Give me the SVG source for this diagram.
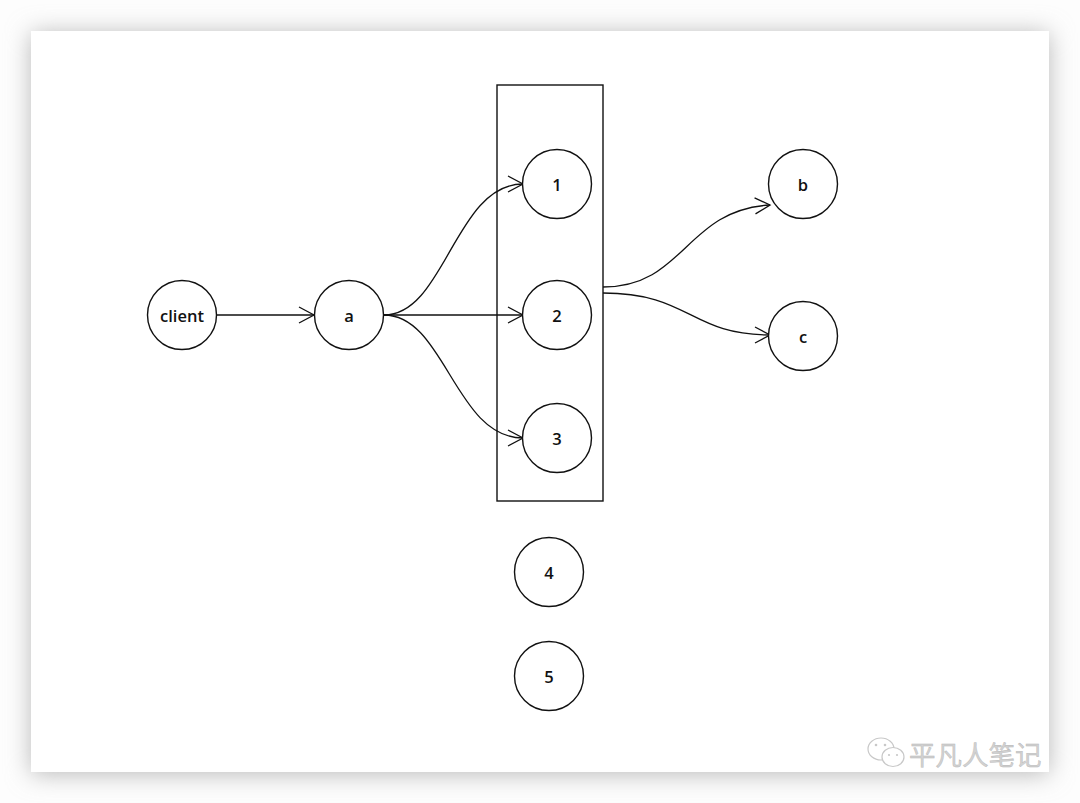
<svg xmlns="http://www.w3.org/2000/svg" width="1080" height="803" viewBox="0 0 1080 803">
<defs>
<filter id="sh" x="-10%" y="-10%" width="120%" height="120%"><feGaussianBlur stdDeviation="12"/></filter>
<marker id="arr" markerUnits="userSpaceOnUse" markerWidth="20" markerHeight="20" refX="0" refY="0" viewBox="-17 -10 20 20" orient="auto">
<path d="M-15,-8 L0,0 L-15,8" fill="none" stroke="#111" stroke-width="1.3"/>
</marker>
<style>
.n{fill:#fff;stroke:#111;stroke-width:1.4}
.t{font-family:"Open Sans","DejaVu Sans",sans-serif;font-size:16.5px;font-weight:600;fill:#111;text-anchor:middle;dominant-baseline:central}
.e{fill:none;stroke:#111;stroke-width:1.3;marker-end:url(#arr)}
.wm{font-family:"Noto Sans CJK SC",sans-serif;font-size:26.5px;fill:#d2d2d2;stroke:#b5b5b5;stroke-width:0.4}
</style>
</defs>
<rect width="1080" height="803" fill="#fdfdfd"/>
<rect x="31" y="33" width="1018" height="741" fill="#b8b8b8" filter="url(#sh)"/>
<rect x="31" y="31" width="1018" height="741" fill="#fff"/>
<g id="box"><rect x="497" y="85" width="106" height="416" fill="none" stroke="#111" stroke-width="1.4"/></g>
<g id="connectors">
<path class="e" d="M216,315 L314,315"/>
<path class="e" d="M384,315 C445,315 455,184 523,184"/>
<path class="e" d="M384,315 L523,315"/>
<path class="e" d="M384,315 C445,315 455,438 523,438"/>
<path class="e" d="M603,287 C685,287 685,210 770,205"/>
<path class="e" d="M603,293 C690,293 690,335 770,335"/>
</g>
<g id="client"><circle class="n" cx="182" cy="315" r="34.5"/><text class="t" x="182" y="315">client</text></g>
<g id="a"><circle class="n" cx="349" cy="315" r="34.5"/><text class="t" x="349" y="315">a</text></g>
<g id="n1"><circle class="n" cx="557" cy="184" r="34.5"/><text class="t" x="557" y="184">1</text></g>
<g id="n2"><circle class="n" cx="557" cy="315" r="34.5"/><text class="t" x="557" y="315">2</text></g>
<g id="n3"><circle class="n" cx="557" cy="438" r="34.5"/><text class="t" x="557" y="438">3</text></g>
<g id="n4"><circle class="n" cx="549" cy="572" r="34.5"/><text class="t" x="549" y="572">4</text></g>
<g id="n5"><circle class="n" cx="549" cy="676" r="34.5"/><text class="t" x="549" y="676">5</text></g>
<g id="b"><circle class="n" cx="803" cy="184" r="34.5"/><text class="t" x="803" y="184">b</text></g>
<g id="c"><circle class="n" cx="803" cy="336" r="34.5"/><text class="t" x="803" y="336">c</text></g>
<g id="watermark">
<ellipse cx="881" cy="749" rx="13" ry="11" fill="#fff" stroke="#c8c8c8" stroke-width="1.2"/>
<ellipse cx="893" cy="757" rx="11" ry="9.5" fill="#fff" stroke="#c8c8c8" stroke-width="1.2"/>
<circle cx="876" cy="745" r="1.3" fill="#c8c8c8"/><circle cx="885" cy="745" r="1.3" fill="#c8c8c8"/>
<circle cx="889" cy="755" r="1.1" fill="#c8c8c8"/><circle cx="897" cy="755" r="1.1" fill="#c8c8c8"/>
<text class="wm" x="909" y="765">平凡人笔记</text>
</g>
</svg>
